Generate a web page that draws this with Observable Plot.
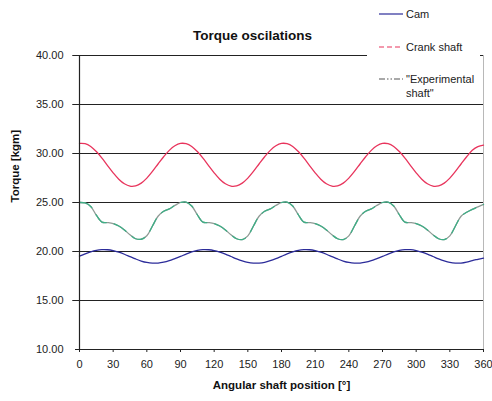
<!DOCTYPE html>
<html>
<head>
<meta charset="utf-8">
<script src="https://cdn.jsdelivr.net/npm/d3@7"></script>
<script src="https://cdn.jsdelivr.net/npm/@observablehq/plot@0.6"></script>
<style>
  body { margin: 0; background: #fff; font-family: "Liberation Sans", Arial, sans-serif; }
  #wrap { position: relative; width: 492px; height: 401px; }
  #legend { position: absolute; left: 367px; top: 0; width: 113px; height: 100px; background: #fff; font-size: 11px; color: #222; }
  .item { position: absolute; left: 12px; display: flex; align-items: flex-start; }
  .item svg { margin-right: 3px; margin-top: 5px; }
</style>
</head>
<body>
<div id="wrap">
  <div id="chart"></div>
  <div id="legend"></div>
</div>
<script>
// Angular positions (degrees), every 5°
const angles = d3.range(0, 361, 5);

// Cam torque [kgm]
const cam = [
  19.52, 19.76, 19.97, 20.12, 20.19, 20.18, 20.09, 19.93, 19.72, 19.48, 19.24, 19.03, 18.88, 18.81, 18.82, 18.91, 19.07, 19.28,
  19.50, 19.74, 19.96, 20.11, 20.19, 20.18, 20.10, 19.94, 19.73, 19.49, 19.25, 19.04, 18.88, 18.81, 18.82, 18.90, 19.06, 19.27,
  19.51, 19.75, 19.96, 20.12, 20.19, 20.18, 20.09, 19.93, 19.72, 19.48, 19.24, 19.03, 18.88, 18.81, 18.82, 18.91, 19.07, 19.28,
  19.50, 19.74, 19.96, 20.11, 20.19, 20.19, 20.10, 19.94, 19.73, 19.49, 19.25, 19.04, 18.88, 18.81, 18.82, 18.92, 19.08, 19.20,
  19.32
];

// Crank shaft torque [kgm]
const crank = [
  31.03, 31.00, 30.72, 30.20, 29.53, 28.77, 28.03, 27.38, 26.91, 26.67, 26.70, 26.98, 27.49, 28.17, 28.93, 29.67, 30.32, 30.79,
  31.03, 31.00, 30.72, 30.20, 29.53, 28.77, 28.03, 27.38, 26.91, 26.67, 26.70, 26.98, 27.49, 28.17, 28.93, 29.67, 30.32, 30.79,
  31.03, 31.00, 30.72, 30.20, 29.53, 28.77, 28.03, 27.38, 26.91, 26.67, 26.70, 26.98, 27.49, 28.17, 28.93, 29.67, 30.32, 30.79,
  31.03, 31.00, 30.72, 30.20, 29.53, 28.77, 28.03, 27.38, 26.91, 26.67, 26.70, 26.98, 27.49, 28.17, 28.93, 29.67, 30.32, 30.70,
  30.85
];

// "Experimental shaft" torque [kgm]
const experimental = [
  25.00, 24.95, 24.60, 23.70, 23.00, 22.95, 22.85, 22.60, 22.20, 21.70, 21.30, 21.25, 21.60, 22.60, 23.60, 24.10, 24.35, 24.70,
  25.00, 25.05, 24.65, 23.75, 23.00, 22.95, 22.85, 22.60, 22.20, 21.70, 21.30, 21.22, 21.60, 22.60, 23.60, 24.10, 24.35, 24.70,
  25.00, 25.05, 24.65, 23.75, 23.00, 22.95, 22.85, 22.60, 22.20, 21.70, 21.30, 21.22, 21.60, 22.60, 23.60, 24.10, 24.35, 24.70,
  25.00, 25.05, 24.65, 23.75, 23.00, 22.95, 22.85, 22.60, 22.20, 21.70, 21.30, 21.22, 21.60, 22.60, 23.60, 24.00, 24.30, 24.55,
  24.80
];

const yTicks = [10, 15, 20, 25, 30, 35, 40];
const xTicks = d3.range(0, 361, 30);
const seriesNames = ["Cam", "Crank shaft", "\"Experimental shaft\""];
const seriesColors = ["#2c2c9a", "#e8345c", "#3fae86"];

const table = angles.map((a, i) => ({angle: a, cam: cam[i], crank: crank[i], exp: experimental[i]}));

const chart = Plot.plot({
  width: 492,
  height: 401,
  marginLeft: 79,
  marginRight: 9,
  marginTop: 55,
  marginBottom: 52,
  style: {fontFamily: "Liberation Sans, Arial, sans-serif", fontSize: "11px", color: "#222", background: "#fff"},
  x: {domain: [0, 360]},
  y: {domain: [10, 40]},
  marks: [
    Plot.ruleX([360], {stroke: "#b8b8b8", strokeWidth: 1}),
    Plot.ruleY([15, 20, 25, 30, 35, 40], {x1: -6, x2: 360, stroke: "#222", strokeWidth: 1.2}),
    Plot.line(table, {x: "angle", y: "crank", stroke: seriesColors[1], strokeWidth: 1.3, curve: "catmull-rom"}),
    Plot.line(table, {x: "angle", y: "exp", stroke: "#8f9a95", strokeWidth: 1.3, curve: "catmull-rom"}),
    Plot.line(table, {x: "angle", y: "exp", stroke: seriesColors[2], strokeWidth: 1.3, strokeDasharray: "14,8", curve: "catmull-rom"}),
    Plot.line(table, {x: "angle", y: "cam", stroke: seriesColors[0], strokeWidth: 1.3, curve: "catmull-rom"}),
    Plot.ruleX([0], {stroke: "#222", strokeWidth: 1.2}),
    Plot.ruleY([10], {stroke: "#222", strokeWidth: 1.2}),
    Plot.axisY({ticks: yTicks, tickFormat: d3.format(".2f"), tickSize: 4, tickPadding: 12, label: null, fontSize: 11}),
    Plot.axisX({ticks: xTicks, tickFormat: d => String(d), tickSize: 3, tickPadding: 8, label: null, fontSize: 11}),
    Plot.text(["Torque oscilations"], {frameAnchor: "top", dx: -29, dy: -25, fontWeight: "bold", fontSize: 13.5, fill: "#111"}),
    Plot.text(["Angular shaft position [°]"], {frameAnchor: "bottom", dy: 39, fontWeight: "bold", fontSize: 11.5, fill: "#111"}),
    Plot.text(["Torque [kgm]"], {frameAnchor: "left", dx: -64, rotate: -90, fontWeight: "bold", fontSize: 11.5, fill: "#111"})
  ]
});
document.getElementById("chart").appendChild(chart);

// Legend
const legend = document.getElementById("legend");
const dashes = ["", "5,3", "6,2,1.5,2,1.5,2"];
const legendStroke = ["#2c2c9a", "#e8345c", "#555"];
const tops = [7, 40, 72];
seriesNames.forEach((name, i) => {
  const item = document.createElement("div");
  item.className = "item";
  item.style.top = tops[i] + "px";
  item.innerHTML = `<svg width="24" height="4"><line x1="0" y1="2" x2="24" y2="2" stroke="${legendStroke[i]}" stroke-width="1.2" ${dashes[i] ? `stroke-dasharray="${dashes[i]}"` : ""}/></svg><span style="display:inline-block;max-width:72px;line-height:14px">${name}</span>`;
  legend.appendChild(item);
});
</script>
</body>
</html>
